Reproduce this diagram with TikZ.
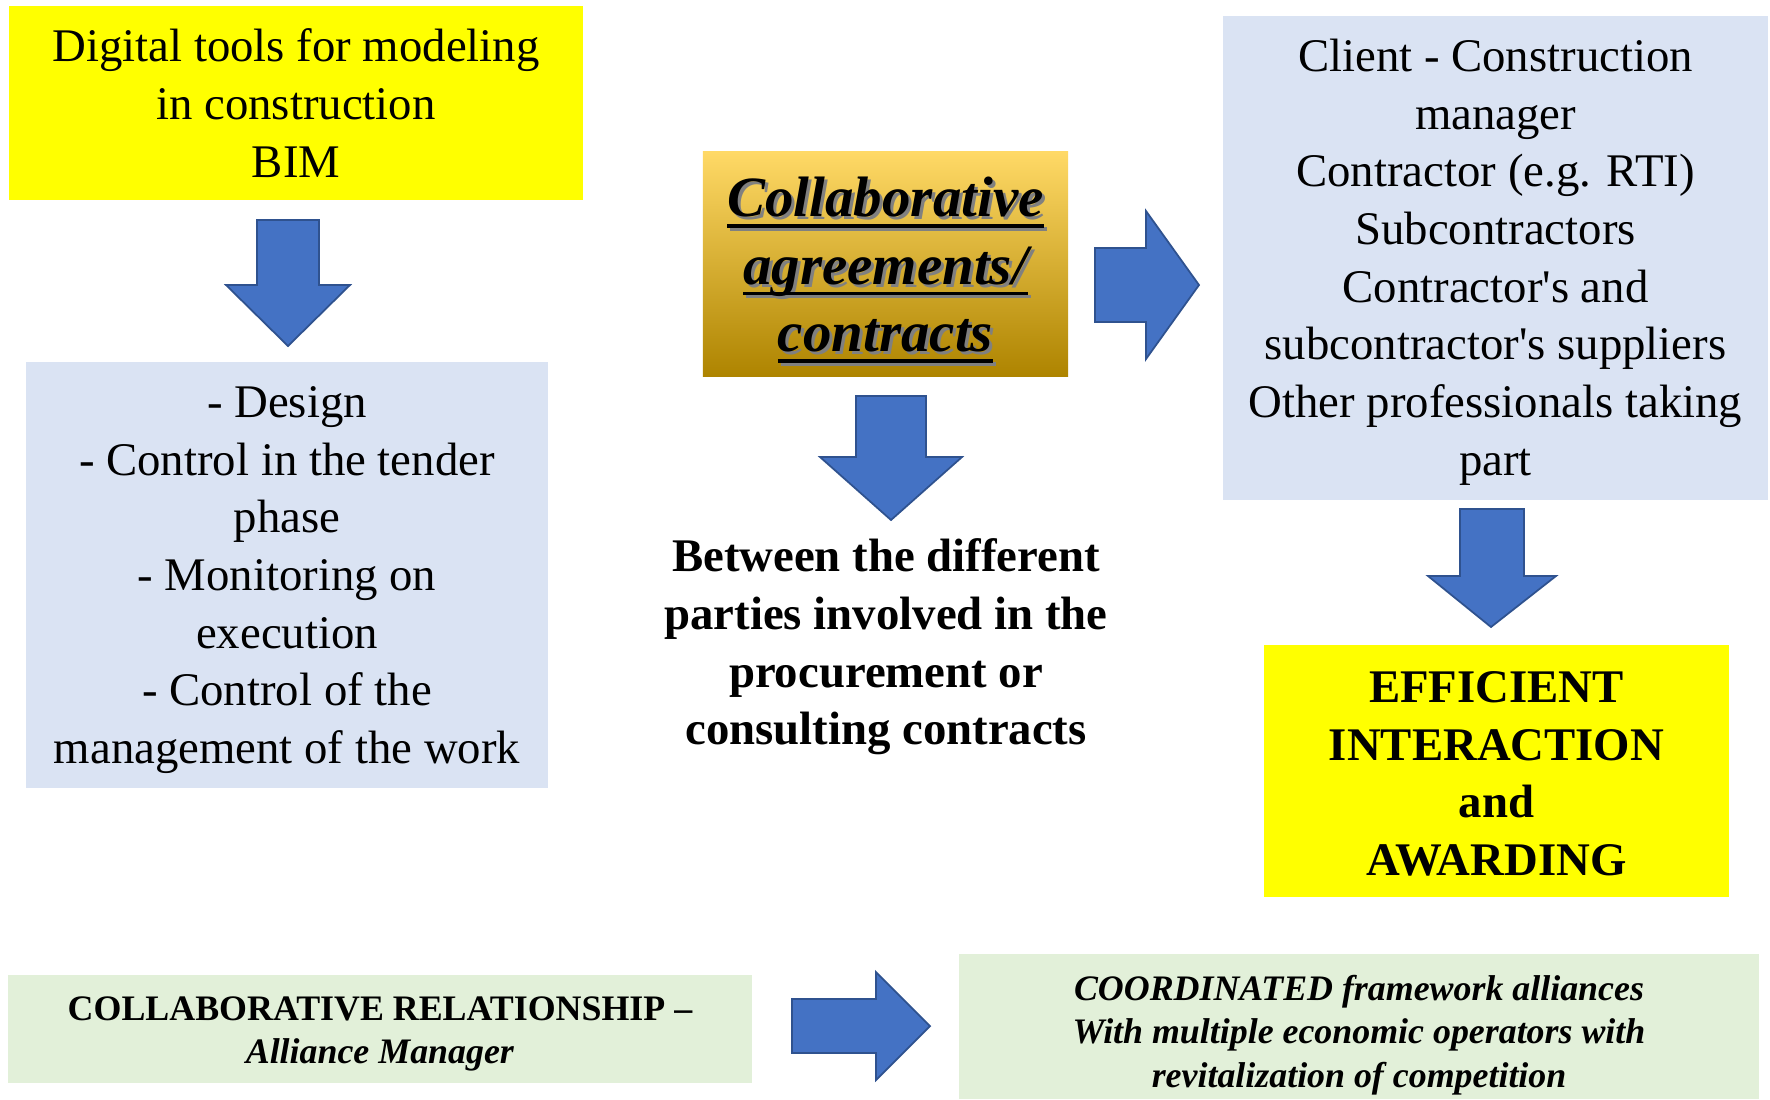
\documentclass[tikz,border=0pt]{standalone}
\usepackage{fontspec}
\setmainfont{LiberationSerif}[Extension=.ttf,UprightFont=*-Regular,BoldFont=*-Bold,
  ItalicFont=*-Italic,BoldItalicFont=*-BoldItalic]

\definecolor{boxyellow}{HTML}{FFFF00}
\definecolor{boxblue}{HTML}{DAE3F3}
\definecolor{boxgreen}{HTML}{E2F0D9}
\definecolor{arrowblue}{HTML}{4472C4}
\definecolor{arrowedge}{HTML}{2F528F}
\definecolor{goldtop}{HTML}{FFD966}
\definecolor{goldmid}{HTML}{FFC000}
\definecolor{goldbot}{HTML}{AE8400}

\newcommand{\thickul}[1]{\setbox0=\hbox{#1}\rlap{\rule[-3.2pt]{\wd0}{1.1pt}}\box0}
\newcommand{\agreetext}{\thickul{Collaborative}\\\thickul{agreements/}\\\thickul{contracts}}

\begin{document}
\begin{tikzpicture}[x=0.01cm,y=-0.01cm,
    base/.style={inner sep=0pt,align=center,font=\fontsize{13.3}{16.4}\selectfont},
    boldtext/.style={base,font=\fontsize{13.3}{16.4}\selectfont\bfseries},
    smalltext/.style={inner sep=0pt,align=center,font=\fontsize{10.2}{12.2}\selectfont\bfseries},
    yellowbox/.style={base,fill=boxyellow},
    bluebox/.style={inner sep=0pt,fill=boxblue},
    greenbox/.style={inner sep=0pt,fill=boxgreen},
    goldbox/.style={inner sep=0pt,minimum width=3.65cm,minimum height=2.24cm,
      top color=goldtop,middle color=goldmid,bottom color=goldbot},
    agreefont/.style={inner sep=0pt,align=center,font=\fontsize{16.2}{19.2}\selectfont\bfseries\itshape},
    blockarrow/.style={fill=arrowblue,draw=arrowedge,line width=0.5pt,line join=miter}]
\useasboundingbox (0,0) rectangle (1770,1099);

% boxes
\node[yellowbox,minimum width=5.74cm,minimum height=1.93cm] (digital) at (296,103)
  {Digital tools for modeling\\in construction\\BIM};
\node[bluebox,minimum width=5.22cm,minimum height=4.26cm] (phases) at (287,575) {};
\node[base] (phasestext) at ([shift={(0,5)}]phases.center)
  {- Design\\- Control in the tender\\phase\\- Monitoring on\\execution\\- Control of the\\management of the work};
\node[goldbox] (agree) at (885.5,264) {};
\node[agreefont,text=black!50] at ([shift={(3,9)}]agree.center) {\agreetext};
\node[agreefont] (agreetext) at ([shift={(0,6)}]agree.center) {\agreetext};
\node[bluebox,minimum width=5.45cm,minimum height=4.84cm] (parties) at (1495.5,258) {};
\node[base] (partiestext) at ([shift={(0,4)}]parties.center)
  {Client - Construction\\manager\\Contractor (e.g. RTI)\\Subcontractors\\Contractor\textquotesingle s and\\subcontractor\textquotesingle s suppliers\\Other professionals taking\\part};
\node[boldtext] (between) at (886,647)
  {Between the different\\parties involved in the\\procurement or\\consulting contracts};
\node[yellowbox,minimum width=4.65cm,minimum height=2.52cm] (efficient) at (1496.5,771) {};
\node[boldtext] (efficienttext) at ([shift={(0,3)}]efficient.center)
  {EFFICIENT\\INTERACTION\\and\\AWARDING};
\node[greenbox,minimum width=7.44cm,minimum height=1.08cm] (relation) at (380,1029) {};
\node[smalltext] (relationtext) at (380,1033.5)
  {COLLABORATIVE RELATIONSHIP –\\\textit{Alliance Manager}};
\node[greenbox,minimum width=8cm,minimum height=1.45cm] (alliances) at (1359,1026.5) {};
\node[smalltext,font=\fontsize{10.2}{12.3}\selectfont\bfseries\itshape] (alliancestext) at (1359,1035)
  {COORDINATED framework alliances\\With multiple economic operators with\\revitalization of competition};

% block arrows
\draw[blockarrow] (257,220) -- (319,220) -- (319,285) -- (350,285) -- (288,346) -- (226,285) -- (257,285) -- cycle;
\draw[blockarrow] (856,396) -- (926,396) -- (926,457) -- (962,457) -- (891,520) -- (820,457) -- (856,457) -- cycle;
\draw[blockarrow] (1460,509) -- (1524,509) -- (1524,576) -- (1556,576) -- (1491,627) -- (1428,576) -- (1460,576) -- cycle;
\draw[blockarrow] (1095,248) -- (1146,248) -- (1146,211) -- (1199,285) -- (1146,359) -- (1146,322) -- (1095,322) -- cycle;
\draw[blockarrow] (792,999) -- (876,999) -- (876,972) -- (930,1026) -- (876,1080) -- (876,1053) -- (792,1053) -- cycle;
\end{tikzpicture}
\end{document}
